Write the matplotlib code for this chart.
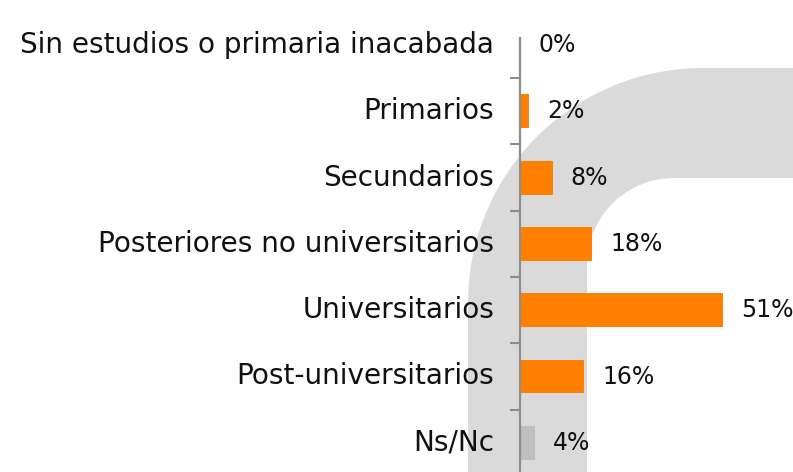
import numpy as np
import matplotlib
matplotlib.use("Agg")
import matplotlib.pyplot as plt
from matplotlib.path import Path
from matplotlib.patches import PathPatch
import matplotlib.transforms as mtransforms

categories = ["Sin estudios o primaria inacabada", "Primarios", "Secundarios",
              "Posteriores no universitarios", "Universitarios",
              "Post-universitarios", "Ns/Nc"]
values = [0.0, 2.2, 8.2, 18.1, 50.8, 16.1, 3.7]
labels = ["0%", "2%", "8%", "18%", "51%", "16%", "4%"]
colors = ["#FF7F00"] * 6 + ["#BFBFBF"]

W, H = 793, 472
fig = plt.figure(figsize=(W / 100, H / 100), dpi=100)
plt.rcParams['font.family'] = ['DejaVu Sans']

# background decoration (watermark band)
to_disp = mtransforms.Affine2D().scale(1, -1).translate(0, H)
t1 = np.radians(np.linspace(180, 90, 40))
ocx, ocy, R = 703, 303, 235
outer = [(ocx + R * np.cos(t), ocy - R * np.sin(t)) for t in t1]
t2 = np.radians(np.linspace(90, 180, 40))
icx, icy, r = 674, 265, 87
inner = [(icx + r * np.cos(t), icy - r * np.sin(t)) for t in t2]
verts = [(468, H + 10)] + outer + [(W + 10, 68), (W + 10, 178)] + inner + [(587, H + 10), (468, H + 10)]
codes = [Path.MOVETO] + [Path.LINETO] * (len(verts) - 2) + [Path.CLOSEPOLY]
band = PathPatch(Path(verts, codes), facecolor="#DADADA", edgecolor="none",
                 transform=to_disp, zorder=-1)
fig.add_artist(band)

ax = fig.add_axes([520 / W, 0, (W - 520) / W, (H - 38) / H])
ax.patch.set_visible(False)
y = np.arange(len(categories))
ax.barh(y, values, height=0.51, color=colors, zorder=2)
ax.set_xlim(0, (W - 520) / 4.0)
ax.set_ylim((H - 45) / 66.3, (38 - 45) / 66.3)

for i, (v, lab) in enumerate(zip(values, labels)):
    ax.annotate(lab, (v, i), xytext=(13, 0), textcoords="offset points",
                ha="left", va="center", fontsize=17, color="#111111")

ax.set_yticks(y)
ax.set_yticklabels(categories, fontsize=20.1, color="#111111")
for t in ax.get_yticklabels():
    t.set_va("center")
ax.tick_params(axis="y", which="major", length=0, pad=18.7)
ax.set_yticks(y[:-1] + 0.5, minor=True)
ax.tick_params(axis="y", which="minor", length=7, width=1.5, color="#8C8C8C", direction="out")
ax.set_xticks([])
for s in ["top", "right", "bottom"]:
    ax.spines[s].set_visible(False)
ax.spines["left"].set_color("#8C8C8C")
ax.spines["left"].set_linewidth(1.6)

fig.savefig("out.png", dpi=100)
